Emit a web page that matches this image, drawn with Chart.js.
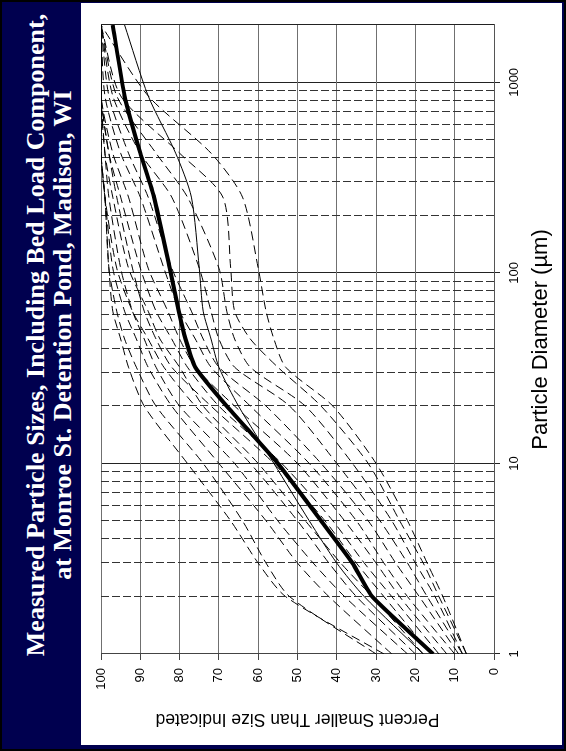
<!DOCTYPE html>
<html>
<head>
<meta charset="utf-8">
<script src="https://cdn.jsdelivr.net/npm/chart.js@4"></script>
<style>
  html, body { margin: 0; padding: 0; background: #fff; }
  body { width: 566px; height: 751px; overflow: hidden; position: relative; }
  /* the slide is laid out landscape and turned a quarter turn to the left */
  #page {
    position: absolute; left: 0; top: 0;
    width: 751px; height: 566px;
    background: #00004f;
    box-sizing: border-box;
    border: 2px solid #000;
    transform-origin: 0 0;
    transform: translate(0, 751px) rotate(-90deg);
  }
  #title {
    position: absolute; left: 78px; width: 672px; top: 20px;
    color: #fff; text-align: center;
    font: bold 26px/27px "Liberation Serif", "Times New Roman", serif;
  }
  #panel {
    position: absolute; left: 4px; top: 79px;
    width: 742px; height: 481px; background: #fff;
  }
  #chart { display: block; }
</style>
</head>
<body>
<div id="page">
  <div id="title">Measured Particle Sizes, Including Bed Load Component,<br>at Monroe St. Detention Pond, Madison, WI</div>
  <div id="panel"><canvas id="chart" width="742" height="481"></canvas></div>
</div>
<script>
// particle diameters (um) where every curve is read
const diameters = [1, 2, 3, 5, 10, 20, 32, 45, 63, 106, 250, 425, 850, 2000];

// mean of all samples (thick line)
const meanCurve = [15.5, 31, 36, 44, 55, 68, 76, 78.5, 80.2, 82.5, 86.5, 90, 94, 97];

// one sample drawn with a thin solid line
const solidSample = [18, 33, 40, 47, 56, 65, 70, 72, 74, 75, 77, 81, 88, 94];

// the other samples, dashed
const s1 = [28, 53, 60, 67, 78, 89, 93, 95, 97, 98, 99, 100, 100, 100];
const s2 = [30, 52, 58, 64, 74, 86, 91, 94, 96, 98, 99, 100, 100, 100];
const s3 = [26, 42, 50, 58, 70, 82, 88, 91, 94, 97, 99, 100, 100, 100];
const s4 = [22, 38, 46, 55, 66, 80, 86, 89, 92, 95, 98, 99, 100, 100];
const s5 = [20, 35, 42, 50, 62, 76, 84, 88, 92, 96, 99, 100, 100, 100];
const s6 = [18, 31, 39, 48, 60, 74, 80, 85, 88, 93, 97, 99, 100, 100];
const s7 = [16, 28, 35, 43, 56, 72, 82, 86, 89, 92, 96, 98, 100, 100];
const s8 = [14, 26, 33, 41, 54, 70, 78, 82, 86, 90, 95, 98, 100, 100];
const s9 = [12, 24, 30, 38, 50, 66, 76, 80, 83, 88, 93, 97, 100, 100];
const s10 = [10, 22, 28, 35, 47, 62, 72, 76, 80, 84, 90, 95, 99, 100];
const s11 = [9, 19, 25, 32, 44, 58, 70, 74, 77, 82, 88, 93, 98, 100];
const s12 = [8, 17, 22, 29, 40, 52, 66, 70, 72, 75, 82, 90, 97, 100];
const s13 = [8, 15, 20, 26, 36, 48, 62, 66, 68, 70, 78, 86, 96, 100];
const s14 = [7, 14, 18, 24, 32, 44, 55, 62, 66, 67, 69, 80, 95, 100];
const s15 = [7, 13, 17, 22, 30, 41, 53, 56, 58, 60, 64, 72, 88, 100];
const dashedSamples = [s1, s2, s3, s4, s5, s6, s7, s8, s9, s10, s11, s12, s13, s14, s15];

// axis ticks
const xTicks = [1, 10, 100, 1000, 2000];
const xLabels = [1, 10, 100, 1000];
const minorSteps = [2, 3, 4, 5, 6, 7, 8, 9];

const pts = (vals) => vals.map((v, i) => ({x: diameters[i], y: v}));
const isDecade = (v) => Math.abs(Math.log10(v) - Math.round(Math.log10(v))) < 1e-9;

// dashed minor grid lines between the decades
const minorGrid = {
    id: 'minorGrid',
    beforeDatasetsDraw(chart) {
        const {ctx, chartArea: a, scales: {x}} = chart;
        ctx.save();
        ctx.strokeStyle = '#333';
        ctx.lineWidth = 1;
        ctx.setLineDash([8, 3]);
        for (let dec = 1; dec < 1000; dec *= 10) {
            minorSteps.forEach(m => {
                const px = Math.round(x.getPixelForValue(dec * m)) + 0.5;
                ctx.beginPath();
                ctx.moveTo(px, a.top);
                ctx.lineTo(px, a.bottom);
                ctx.stroke();
            });
        }
        ctx.restore();
    }
};

const datasets = dashedSamples.map(s => ({
    data: pts(s),
    borderColor: '#000',
    borderWidth: 1,
    borderDash: [9, 5],
    tension: 0.25
}));
datasets.push({data: pts(solidSample), borderColor: '#000', borderWidth: 1, tension: 0.25});
datasets.push({data: pts(meanCurve), borderColor: '#000', borderWidth: 4, tension: 0.15});

new Chart(document.getElementById('chart'), {
    type: 'line',
    data: {datasets: datasets},
    plugins: [minorGrid],
    options: {
        responsive: false,
        animation: false,
        layout: {padding: {top: 20, right: 22, left: 0, bottom: 0}},
        elements: {point: {radius: 0}},
        plugins: {legend: {display: false}, tooltip: {enabled: false}},
        scales: {
            x: {
                type: 'logarithmic',
                min: 1,
                max: 2000,
                afterBuildTicks: (scale) => { scale.ticks = xTicks.map(v => ({value: v})); },
                afterFit: (scale) => { scale.height = 68; },
                ticks: {
                    autoSkip: false,
                    maxRotation: 0,
                    padding: 7,
                    color: '#000',
                    font: {family: 'Liberation Sans, Arial', size: 13},
                    callback: (v) => xLabels.includes(v) ? String(v) : ''
                },
                grid: {
                    color: (c) => c.tick && (isDecade(c.tick.value) || c.tick.value === 2000) ? '#222' : 'rgba(0,0,0,0)',
                    tickColor: (c) => c.tick && isDecade(c.tick.value) ? '#222' : 'rgba(0,0,0,0)',
                    tickLength: 6
                },
                border: {color: '#555'},
                title: {
                    display: true,
                    text: 'Particle Diameter (\u00b5m)',
                    color: '#000',
                    font: {family: 'Liberation Sans, Arial', size: 22},
                    padding: {top: 0, bottom: 8}
                }
            },
            y: {
                min: 0,
                max: 100,
                afterFit: (scale) => { scale.width = 91; },
                ticks: {
                    stepSize: 10,
                    padding: 8,
                    color: '#000',
                    font: {family: 'Liberation Sans, Arial', size: 13}
                },
                grid: {color: '#707070', tickColor: '#444', tickLength: 6},
                border: {color: '#444'},
                title: {
                    display: true,
                    text: 'Percent Smaller Than Size Indicated',
                    color: '#000',
                    font: {family: 'Liberation Sans, Arial', size: 17.5},
                    padding: {top: 16, bottom: 0}
                }
            }
        }
    }
});
</script>
</body>
</html>
